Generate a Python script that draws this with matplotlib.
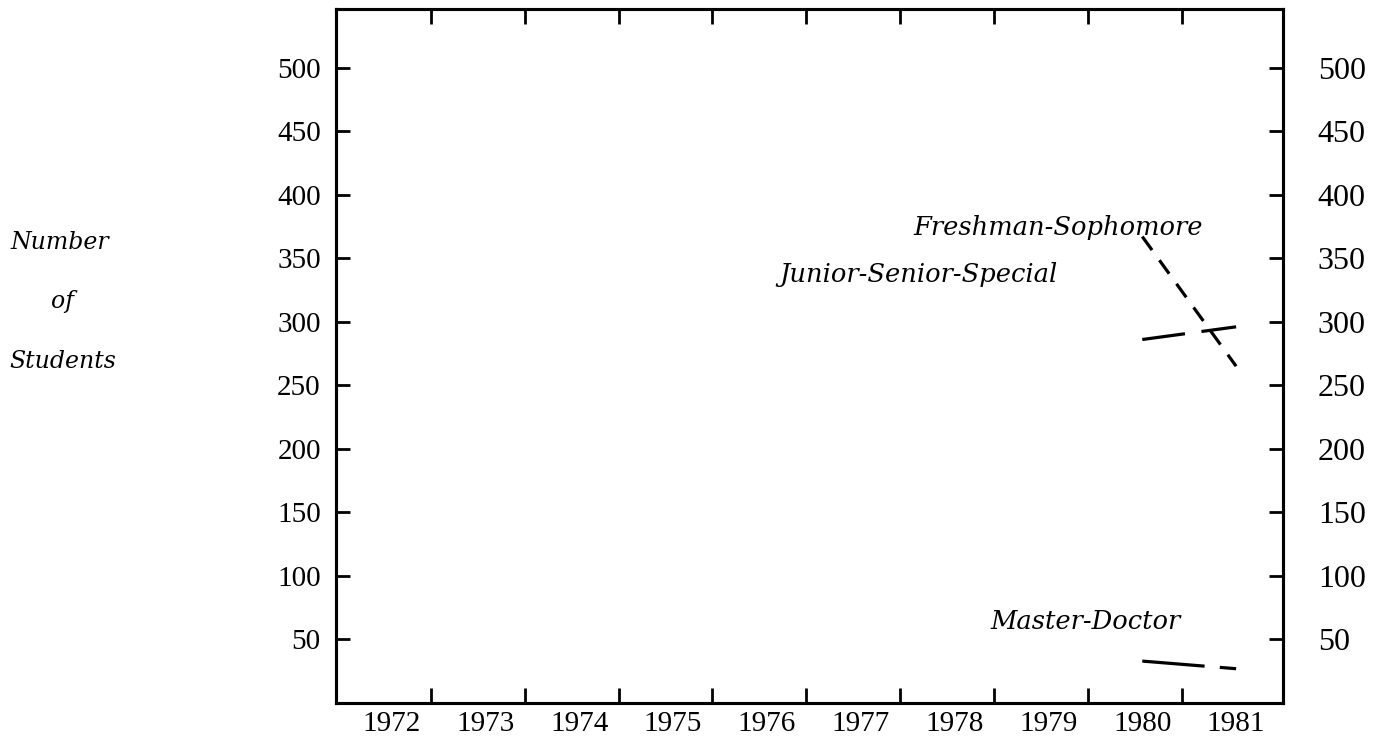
import numpy as np
import matplotlib.pyplot as plt

plt.rcParams['lines.scale_dashes'] = False

# datos
years = [1972, 1973, 1974, 1975, 1976, 1977, 1978, 1979, 1980, 1981]
yticks = [50, 100, 150, 200, 250, 300, 350, 400, 450, 500]

fresh_x = [1980, 1981]
fresh_y = [367, 265]
junior_x = [1980, 1981]
junior_y = [286, 296]
master_x = [1980, 1981]
master_y = [33, 27]

fig = plt.figure(figsize=(13.91, 7.43), dpi=100)
ax = fig.add_axes([0.2416, 0.0538, 0.6808, 0.934])

ax.plot(fresh_x, fresh_y, color='black', lw=2.3, dashes=(12, 9))
ax.plot(junior_x, junior_y, color='black', lw=2.3, dashes=(31, 12))
ax.plot(master_x, master_y, color='black', lw=2.3, dashes=(45, 11))

ax.text(1979.10, 374, 'Freshman-Sophomore', fontsize=18.5, style='italic',
        family='DejaVu Serif', ha='center', va='center')
ax.text(1977.62, 337, 'Junior-Senior-Special', fontsize=18.5, style='italic',
        family='DejaVu Serif', ha='center', va='center')
ax.text(1979.39, 64, 'Master-Doctor', fontsize=18.5, style='italic',
        family='DejaVu Serif', ha='center', va='center')

ax.set_xlim(1971.41, 1981.5)
ax.set_ylim(0, 546)

# marcas entre años, etiquetas en el año
ax.set_xticks([y + 0.42 for y in years[:-1]])
ax.set_xticklabels([])
ax.set_xticks(years, minor=True)
ax.set_xticklabels([str(y) for y in years], minor=True,
                   fontsize=21, family='Liberation Serif')
ax.tick_params(axis='x', which='major', direction='in', length=11, width=2.0,
               top=True, bottom=True)
ax.tick_params(axis='x', which='minor', length=0, pad=6)

ax.set_yticks(yticks)
ax.set_yticklabels([str(v) for v in yticks], fontsize=21, family='Liberation Serif')
ax.tick_params(axis='y', direction='in', length=10, width=2.0, pad=11)

ax2 = ax.twinx()
ax2.set_ylim(0, 546)
ax2.set_yticks(yticks)
ax2.set_yticklabels([str(v) for v in yticks], fontsize=23, family='Liberation Serif')
ax2.tick_params(axis='y', direction='in', length=10, width=2.0, pad=25)

for a in (ax, ax2):
    for s in a.spines.values():
        s.set_linewidth(2.2)

fig.text(0.0431, 0.674, 'Number', fontsize=17, style='italic',
         family='DejaVu Serif', ha='center', va='center')
fig.text(0.0446, 0.594, 'of', fontsize=17, style='italic',
         family='DejaVu Serif', ha='center', va='center')
fig.text(0.0453, 0.513, 'Students', fontsize=17, style='italic',
         family='DejaVu Serif', ha='center', va='center')

fig.savefig('out.png', dpi=100)
